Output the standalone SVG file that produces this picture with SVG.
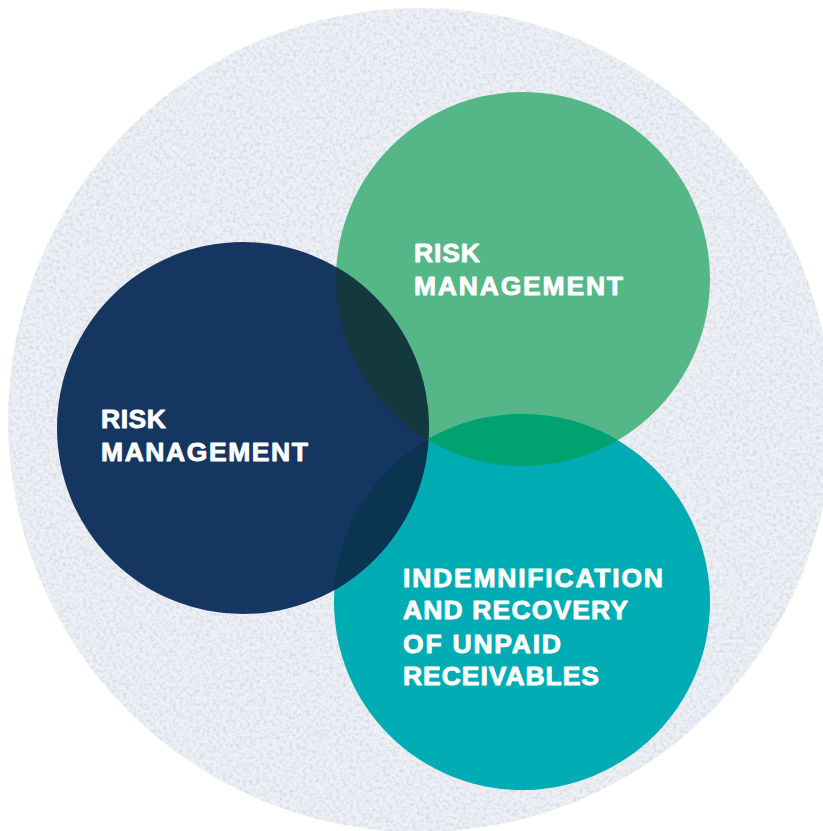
<svg xmlns="http://www.w3.org/2000/svg" width="823" height="831" viewBox="0 0 823 831">
  <defs>
    <style>
      .lbl { font-family: "Liberation Sans", Arial, sans-serif; font-weight: bold; font-size: 26.5px; fill: #ffffff; stroke: #ffffff; stroke-width: 0.9px; stroke-linejoin: round; }
    </style>
    <filter id="tex" x="0" y="0" width="100%" height="100%" filterUnits="objectBoundingBox">
      <feTurbulence type="fractalNoise" baseFrequency="0.3" numOctaves="2" seed="7" result="n"/>
      <feColorMatrix in="n" type="matrix" values="0 0 0 0 0.68  0 0 0 0 0.70  0 0 0 0 0.75  2.6 0 0 0 -1.1" result="spots"/>
      <feComposite in="spots" in2="SourceGraphic" operator="in" result="clipped"/>
      <feMerge>
        <feMergeNode in="SourceGraphic"/>
        <feMergeNode in="clipped"/>
      </feMerge>
    </filter>
    <clipPath id="cNavy"><circle cx="243" cy="428" r="186"/></clipPath>
    <clipPath id="cGreen"><circle cx="523" cy="279" r="187"/></clipPath>
    <clipPath id="cTeal"><circle cx="522" cy="602" r="188"/></clipPath>
  </defs>

  <g id="background">
    <circle cx="420" cy="420" r="412" fill="#edf0f5" filter="url(#tex)"/>
  </g>

  <g id="node-green">
    <circle cx="523" cy="279" r="187" fill="#55b688"/>
  </g>
  <g id="node-teal">
    <circle cx="522" cy="602" r="188" fill="#00acb3"/>
  </g>
  <g id="node-navy">
    <circle cx="243" cy="428" r="186" fill="#163662"/>
  </g>

  <g id="overlaps">
    <g clip-path="url(#cNavy)"><circle cx="523" cy="279" r="187" fill="#13393f"/></g>
    <g clip-path="url(#cNavy)"><circle cx="522" cy="602" r="188" fill="#0b3451"/></g>
    <g clip-path="url(#cGreen)"><circle cx="522" cy="602" r="188" fill="#00a370"/></g>
  </g>

  <g id="connectors"></g>

  <g id="label-green">
    <text class="lbl" x="414" y="262" textLength="66" lengthAdjust="spacing">RISK</text>
    <text class="lbl" x="414" y="295" textLength="209" lengthAdjust="spacing">MANAGEMENT</text>
  </g>
  <g id="label-navy">
    <text class="lbl" x="101" y="428" textLength="65" lengthAdjust="spacing">RISK</text>
    <text class="lbl" x="101" y="461" textLength="207" lengthAdjust="spacing">MANAGEMENT</text>
  </g>
  <g id="label-teal">
    <text class="lbl" x="403" y="587" textLength="260" lengthAdjust="spacing">INDEMNIFICATION</text>
    <text class="lbl" x="403" y="619" textLength="225" lengthAdjust="spacing">AND RECOVERY</text>
    <text class="lbl" x="403" y="653" textLength="158" lengthAdjust="spacing">OF UNPAID</text>
    <text class="lbl" x="403" y="685" textLength="196" lengthAdjust="spacing">RECEIVABLES</text>
  </g>
</svg>
